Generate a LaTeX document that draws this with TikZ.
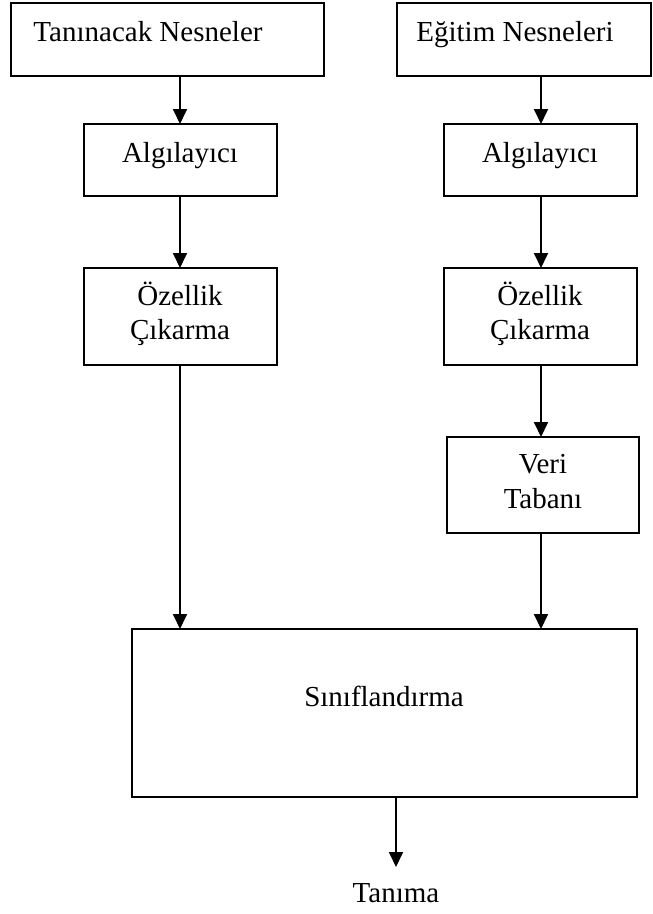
\documentclass[tikz,border=0pt]{standalone}
\usepackage{fontspec}
\setmainfont{Liberation Serif}
\usetikzlibrary{arrows.meta}
\begin{document}
\begin{tikzpicture}[x=1pt,y=-1pt,
  box/.style={draw, line width=1.8pt, rectangle, inner sep=0pt, outer sep=0pt, fill=white},
  lbl/.style={anchor=base, inner sep=0pt, font=\fontsize{29}{35}\selectfont},
  arr/.style={line width=1.8pt, -{Triangle[length=15pt,width=14pt]}}]
\useasboundingbox[fill=white] (0,0) rectangle (653,914);
% boxes
\node[box, minimum width=313pt, minimum height=73pt] (tn) at (167.5,39.5) {};
\node[box, minimum width=254pt, minimum height=73pt] (en) at (524,39.5) {};
\node[box, minimum width=193pt, minimum height=72pt] (a1) at (180.5,160) {};
\node[box, minimum width=193pt, minimum height=72pt] (a2) at (540.5,160) {};
\node[box, minimum width=193pt, minimum height=97pt] (o1) at (180.5,316.5) {};
\node[box, minimum width=193pt, minimum height=97pt] (o2) at (540.5,316.5) {};
\node[box, minimum width=192pt, minimum height=96pt] (vt) at (543,485) {};
\node[box, minimum width=505pt, minimum height=168pt] (sf) at (384.5,713) {};
% texts
\node[lbl] (tnt) at (148,41) {Tanınacak Nesneler};
\node[lbl] (ent) at (515,41) {Eğitim Nesneleri};
\node[lbl] (a1t) at (180,162) {Algılayıcı};
\node[lbl] (a2t) at (540,162) {Algılayıcı};
\node[lbl] (o1t1) at (180,305) {Özellik};
\node[lbl] (o1t2) at (180,339) {Çıkarma};
\node[lbl] (o2t1) at (540,305) {Özellik};
\node[lbl] (o2t2) at (540,339) {Çıkarma};
\node[lbl] (vtt1) at (543,473) {Veri};
\node[lbl] (vtt2) at (543,508) {Tabanı};
\node[lbl] (sft) at (384,706) {Sınıflandırma};
\node[lbl] (tanima) at (396,902) {Tanıma};
% guide coordinates
\coordinate (xl) at (180,0);
\coordinate (xr) at (541,0);
\coordinate (xm) at (396,0);
\coordinate (tip) at (396,867);
% connectors
\draw[arr] (tn.south -| xl) -- (a1.north -| xl);
\draw[arr] (en.south -| xr) -- (a2.north -| xr);
\draw[arr] (a1.south -| xl) -- (o1.north -| xl);
\draw[arr] (a2.south -| xr) -- (o2.north -| xr);
\draw[arr] (o2.south -| xr) -- (vt.north -| xr);
\draw[arr] (o1.south -| xl) -- (sf.north -| xl);
\draw[arr] (vt.south -| xr) -- (sf.north -| xr);
\draw[arr] (sf.south -| xm) -- (tip);
\end{tikzpicture}
\end{document}
